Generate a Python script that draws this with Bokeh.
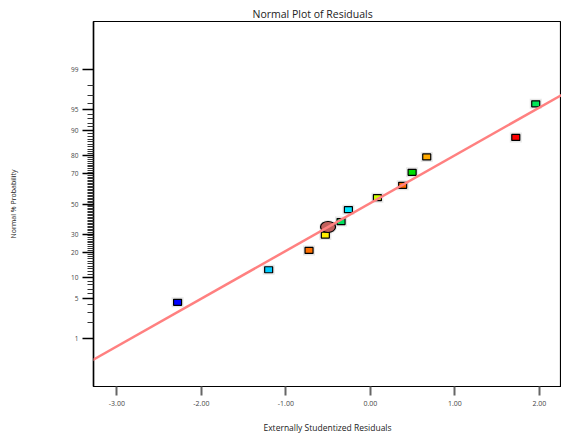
from statistics import NormalDist
from bokeh.plotting import figure
from bokeh.models import FixedTicker, Range1d, Slope, ColumnDataSource
from bokeh.embed import file_html
from bokeh.resources import INLINE

# ---- data ----
residuals = [-2.282, -1.204, -0.726, -0.533, -0.501, -0.347, -0.260, 0.083, 0.382, 0.494, 0.667, 1.721, 1.957]
probability = [4.4, 12.7, 21.0, 29.5, 34.5, 38.0, 46.1, 54.4, 62.7, 70.9, 79.3, 87.6, 95.9]
colors = ["#0000ff", "#00ccff", "#ff7000", "#ffee00", "#c0605c", "#00e060", "#00e5ff",
          "#ccff00", "#ff6a00", "#00e000", "#ffaa00", "#ff0000", "#00e858"]
highlight = [False, False, False, False, True, False, False, False, False, False, False, False, False]
fit_slope = 0.829
fit_intercept = 0.0155
x_ticks = [-3.0, -2.0, -1.0, 0.0, 1.0, 2.0]
x_tick_labels = ["-3.00", "-2.00", "-1.00", "0.00", "1.00", "2.00"]
y_major_pct = [1, 5, 10, 20, 30, 50, 70, 80, 90, 95, 99]
y_minor_pct = [v for v in range(1, 100) if v not in y_major_pct]

nd = NormalDist()
def probit(p):
    return nd.inv_cdf(p / 100.0)

z = [probit(v) for v in probability]

sq = dict(x=[r for r, h in zip(residuals, highlight) if not h],
          y=[zz for zz, h in zip(z, highlight) if not h],
          c=[c for c, h in zip(colors, highlight) if not h])
ci = dict(x=[r for r, h in zip(residuals, highlight) if h],
          y=[zz for zz, h in zip(z, highlight) if h],
          c=[c for c, h in zip(colors, highlight) if h])

p = figure(width=561, height=435, output_backend="svg", toolbar_location=None,
           x_range=Range1d(-3.277, 2.262), y_range=Range1d(-3.167, 3.167),
           min_border_left=93, min_border_right=0, min_border_top=21, min_border_bottom=49)

p.title.text = "Normal Plot of Residuals"
p.title.align = "left"
p.title.offset = 159
p.title.text_font = "Open Sans"
p.title.text_font_size = "10.5px"
p.title.text_font_style = "normal"
p.title.text_color = "#222222"
p.title.standoff = 2

p.outline_line_color = "black"
p.outline_line_width = 1.2
p.xgrid.visible = False
p.ygrid.visible = False
p.background_fill_color = "white"
p.border_fill_color = "white"

# x axis
xa = p.xaxis[0]
xa.ticker = FixedTicker(ticks=x_ticks, minor_ticks=[])
xa.major_label_overrides = {t: l for t, l in zip(x_ticks, x_tick_labels)}
xa.axis_label = "Externally Studentized Residuals"
xa.axis_label_text_font = "Open Sans"
xa.axis_label_text_font_size = "8.5px"
xa.axis_label_text_font_style = "normal"
xa.axis_label_text_color = "#222222"
xa.axis_label_standoff = 13
xa.major_label_text_font = "Open Sans"
xa.major_label_text_font_size = "7px"
xa.major_label_text_color = "#444444"
xa.major_label_standoff = 5
xa.axis_line_color = "black"
xa.major_tick_in = 0
xa.major_tick_out = 9
xa.major_tick_line_color = "#666666"
xa.major_tick_line_width = 2
xa.minor_tick_line_color = None

# y axis (probit scale)
ya = p.yaxis[0]
major_z = [probit(v) for v in y_major_pct]
minor_z = [probit(v) for v in y_minor_pct]
ya.ticker = FixedTicker(ticks=major_z, minor_ticks=minor_z)
ya.major_label_overrides = {t: str(v) for t, v in zip(major_z, y_major_pct)}
ya.axis_label = "Normal % Probability"
ya.axis_label_text_font = "Open Sans"
ya.axis_label_text_font_size = "7px"
ya.axis_label_text_font_style = "normal"
ya.axis_label_text_color = "#222222"
ya.axis_label_standoff = 50
ya.major_label_text_font = "Open Sans"
ya.major_label_text_font_size = "6.5px"
ya.major_label_text_color = "#444444"
ya.major_label_standoff = 4
ya.axis_line_color = "black"
ya.axis_line_width = 1.5
ya.major_tick_in = 0
ya.major_tick_out = 11
ya.major_tick_line_color = "black"
ya.major_tick_line_width = 1.5
ya.minor_tick_in = 0
ya.minor_tick_out = 6
ya.minor_tick_line_color = "#333333"
ya.minor_tick_line_width = 1.2

# fitted line
p.add_layout(Slope(gradient=fit_slope, y_intercept=fit_intercept,
                   line_color="#ff8080", line_width=2.5))

src_sq = ColumnDataSource(sq)
src_ci = ColumnDataSource(ci)
# soft shadows
p.rect("x", "y", width=12, height=10, width_units="screen", height_units="screen",
       source=src_sq, fill_color="#888888", fill_alpha=0.2, line_color=None)
p.ellipse("x", "y", width=18, height=14, width_units="screen", height_units="screen",
          source=src_ci, fill_color="#888888", fill_alpha=0.2, line_color=None)
# markers
p.rect("x", "y", width=8, height=6, width_units="screen", height_units="screen",
       source=src_sq, fill_color="c", line_color="black", line_width=1.2)
p.ellipse("x", "y", width=15, height=11, width_units="screen", height_units="screen",
          source=src_ci, fill_color="c", line_color="black", line_width=1.2)

open("out.html", "w").write(file_html(p, INLINE))
